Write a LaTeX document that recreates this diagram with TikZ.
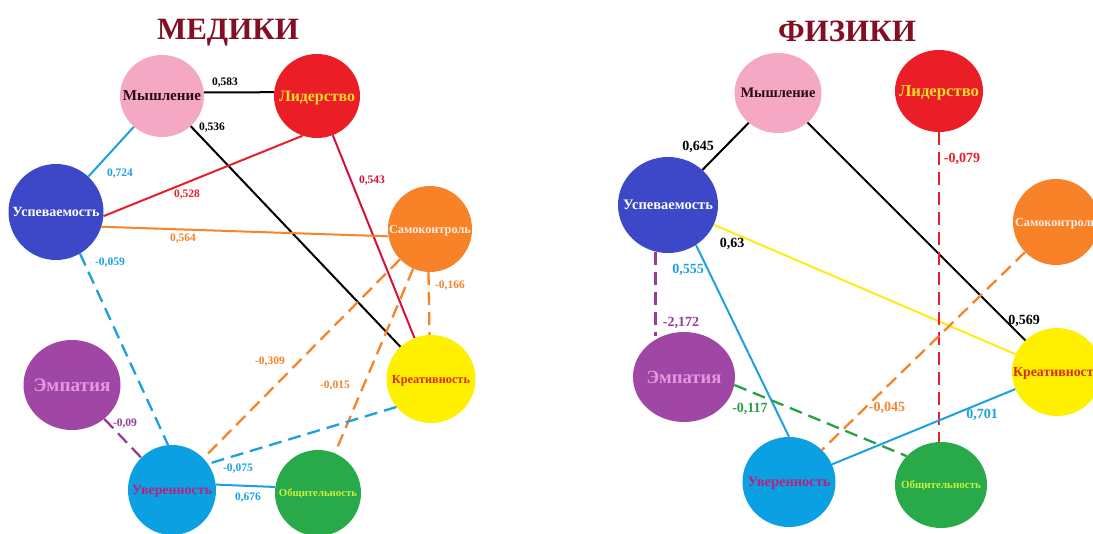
\documentclass[tikz,border=0pt]{standalone}
\usepackage{graphicx}
\usepackage{fontspec}
\setmainfont{Liberation Serif}
\usetikzlibrary{shapes.geometric}
\newcommand\fitw[2]{\smash{\makebox[0pt]{\raisebox{-.5\height}{\resizebox{#1pt}{!}{#2}}}}}
\definecolor{fPink}{RGB}{245,168,195}
\definecolor{fRed}{RGB}{235,30,40}
\definecolor{fDBlue}{RGB}{60,72,200}
\definecolor{fOrange}{RGB}{247,130,40}
\definecolor{fYellow}{RGB}{255,240,0}
\definecolor{fGreen}{RGB}{40,170,75}
\definecolor{fLBlue}{RGB}{10,160,225}
\definecolor{fPurple}{RGB}{160,70,165}
\definecolor{tMys}{RGB}{40,10,20}
\definecolor{tLid}{RGB}{255,220,40}
\definecolor{tSam}{RGB}{255,238,225}
\definecolor{tKre}{RGB}{215,45,20}
\definecolor{tObs}{RGB}{200,240,60}
\definecolor{tUv}{RGB}{190,30,130}
\definecolor{tEmp}{RGB}{232,150,222}
\definecolor{cLblue}{RGB}{27,161,226}
\definecolor{cRed}{RGB}{230,30,45}
\definecolor{cCrim}{RGB}{210,20,60}
\definecolor{cOrange}{RGB}{245,132,42}
\definecolor{cPurple}{RGB}{150,60,150}
\definecolor{cGreen}{RGB}{40,160,70}
\definecolor{cYellow}{RGB}{255,235,20}
\definecolor{cTitle}{RGB}{130,15,35}
\begin{document}
\begin{tikzpicture}[x=1pt,y=-1pt,
  nd/.style={ellipse, inner sep=0pt, font=\bfseries},
  ln/.style={line width=2pt},
  dsh/.style={line width=2.3pt, dash pattern=on 13pt off 7pt},
  lb/.style={font=\bfseries\fontsize{11.5}{12}\selectfont, inner sep=0pt},
  rb/.style={font=\bfseries\fontsize{14}{15}\selectfont, inner sep=0pt},
  ttl/.style={font=\bfseries\fontsize{31}{34}\selectfont, text=cTitle, inner sep=0pt}]
\clip (0,0) rectangle (1093,534);
\fill[white] (0,0) rectangle (1093,534);
% titles
\node[ttl] (t1) at (228,33) {МЕДИКИ};
\node[ttl] (t2) at (847,31) {ФИЗИКИ};
% ---------- left nodes ----------
\node[nd, fill=fPink, minimum width=84pt, minimum height=82pt, text=tMys] (aM) at (162,96) {\fitw{78}{Мышление}};
\node[nd, fill=fRed, minimum width=86pt, minimum height=84pt, text=tLid] (aL) at (317,96) {\fitw{76}{Лидерство}};
\node[nd, fill=fDBlue, minimum width=95pt, minimum height=96pt, text=white] (aU) at (56,212) {\fitw{87}{Успеваемость}};
\node[nd, fill=fOrange, minimum width=84pt, minimum height=86pt, text=tSam] (aS) at (430,229) {\fitw{82}{Самоконтроль}};
\node[nd, fill=fYellow, minimum width=89pt, minimum height=88pt, text=tKre] (aK) at (431,379) {\fitw{78}{Креативность}};
\node[nd, fill=fGreen, minimum width=86pt, minimum height=86pt, text=tObs] (aO) at (318,493) {\fitw{78}{Общительность}};
\node[nd, fill=fLBlue, minimum width=88pt, minimum height=90pt, text=tUv] (aV) at (172,490) {\fitw{80}{Уверенность}};
\node[nd, fill=fPurple, minimum width=97pt, minimum height=90pt, text=tEmp] (aE) at (72,385) {\fitw{77}{Эмпатия}};
% ---------- left edges ----------
\draw[ln, black] (aM.5) -- (aL.175);
\draw[ln, black] (aM) -- (aK);
\draw[ln, cLblue] (aM) -- (aU);
\draw[ln, cRed] (aL.250) -- (aU.355);
\draw[ln, cCrim] (aL) -- (aK);
\draw[ln, cOrange] (aU.-18) -- (aS.190);
\draw[dsh, cLblue] (aU.-60) -- (aV.95);
\draw[dsh, cOrange] (aS.268) -- (aK.92);
\draw[dsh, cOrange] (aS) -- (aV);
\draw[dsh, cOrange] (aS) -- (aO);
\draw[dsh, cLblue] (aK.219) -- (aV.36);
\draw[ln, cLblue] (aV.7) -- (aO.172);
\draw[dsh, cPurple] (aE) -- (aV);
% ---------- left labels ----------
\node[lb, text=black] (la1) at (225,83) {0,583};
\node[lb, text=black] (la2) at (212,128) {0,536};
\node[lb, text=cLblue] (la3) at (120,174) {0,724};
\node[lb, text=cRed] (la4) at (187,195) {0,528};
\node[lb, text=cCrim] (la5) at (372,181) {0,543};
\node[lb, text=cOrange] (la6) at (183,239) {0,564};
\node[lb, text=cLblue] (la7) at (110,263) {-0,059};
\node[lb, text=cOrange] (la8) at (270,362) {-0,309};
\node[lb, text=cOrange] (la9) at (450,286) {-0,166};
\node[lb, text=cOrange] (la10) at (335,386) {-0,015};
\node[lb, text=cPurple] (la11) at (125,424) {-0,09};
\node[lb, text=cLblue] (la12) at (238,469) {-0,075};
\node[lb, text=cLblue] (la13) at (248,498) {0,676};
% ---------- right nodes ----------
\node[nd, fill=fPink, minimum width=87pt, minimum height=80pt, text=tMys] (bM) at (778,93) {\fitw{75}{Мышление}};
\node[nd, fill=fRed, minimum width=88pt, minimum height=82pt, text=tLid] (bL) at (939,91) {\fitw{80}{Лидерство}};
\node[nd, fill=fDBlue, minimum width=100pt, minimum height=96pt, text=white] (bU) at (668,205) {\fitw{90}{Успеваемость}};
\node[nd, fill=fOrange, minimum width=86pt, minimum height=86pt, text=tSam] (bS) at (1056,222) {\fitw{82}{Самоконтроль}};
\node[nd, fill=fYellow, minimum width=90pt, minimum height=88pt, text=tKre] (bK) at (1057,372) {\fitw{88}{Креативность}};
\node[nd, fill=fGreen, minimum width=92pt, minimum height=86pt, text=tObs] (bO) at (941,485) {\fitw{80}{Общительность}};
\node[nd, fill=fLBlue, minimum width=93pt, minimum height=90pt, text=tUv] (bV) at (789,482) {\fitw{83}{Уверенность}};
\node[nd, fill=fPurple, minimum width=102pt, minimum height=90pt, text=tEmp] (bE) at (684,377) {\fitw{75}{Эмпатия}};
% ---------- right edges ----------
\draw[ln, black] (bM) -- (bU);
\draw[ln, black] (bM) -- (bK);
\draw[ln, cYellow] (bU) -- (bK);
\draw[ln, cLblue] (bU.-55) -- (bV.north);
\draw[dsh, cPurple] (bU.255) -- (bU.255 |- bE.118);
\draw[dsh, cRed] (bL.south) -- (bL.south |- bO.north);
\draw[dsh, cOrange] (bS) -- (bV);
\draw[dsh, cGreen] (bE.-9) -- (bO.140);
\draw[ln, cLblue] (bV) -- (bK);
% ---------- right labels ----------
\node[rb, text=black] (lb1) at (698,147) {0,645};
\node[rb, text=black] (lb2) at (732,244) {0,63};
\node[rb, text=cLblue] (lb3) at (688,270) {0,555};
\node[rb, text=cPurple] (lb4) at (681,323) {-2,172};
\node[rb, text=cGreen] (lb5) at (750,409) {-0,117};
\node[rb, text=cRed] (lb6) at (962,159) {-0,079};
\node[rb, text=black] (lb7) at (1024,321) {0,569};
\node[rb, text=cOrange] (lb8) at (887,408) {-0,045};
\node[rb, text=cLblue] (lb9) at (982,415) {0,701};
\end{tikzpicture}
\end{document}
